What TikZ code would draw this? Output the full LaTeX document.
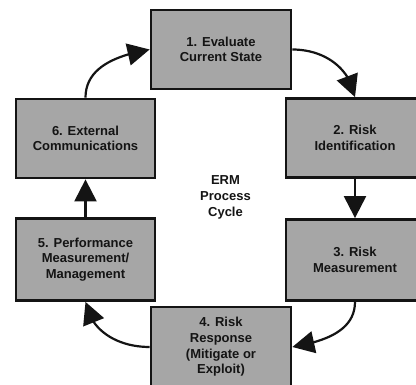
\documentclass[tikz,border=0pt]{standalone}
\usepackage{fontspec}
\setmainfont{Liberation Sans}
\usetikzlibrary{arrows.meta,bending}
\definecolor{boxfill}{HTML}{A6A6A6}
\definecolor{ink}{HTML}{141414}
\tikzset{
  stepbox/.style={draw=ink, fill=boxfill, line width=2.8pt, inner sep=0pt,
    align=center, text=ink,
    font=\bfseries\fontsize{13}{15.7}\selectfont},
  label text/.style={inner sep=0pt, align=center, text=ink,
    font=\bfseries\fontsize{13}{15.7}\selectfont},
  flow/.style={draw=ink, line width=2.2pt,
    -{Triangle[length=22pt,width=22pt]}}
}
\begin{document}
\begin{tikzpicture}[x=1pt,y=1pt]
\useasboundingbox (0,0) rectangle (416,385);
\clip (0,0) rectangle (416,385);
\fill[white] (0,0) rectangle (416,385);

% the six stages of the cycle
\node[stepbox, minimum width=140pt, minimum height=79pt] (s1) at (221,335.5) {1. Evaluate\\Current State};
\node[stepbox, minimum width=138pt, minimum height=79pt] (s2) at (355,247) {2. Risk\\Identification};
\node[stepbox, minimum width=138pt, minimum height=81pt] (s3) at (355,125) {3. Risk\\Measurement};
\node[stepbox, minimum width=140pt, minimum height=80pt] (s4) at (221,38) {4. Risk\\Response\\(Mitigate or\\Exploit)};
\node[stepbox, minimum width=139pt, minimum height=82pt] (s5) at (85.5,125.5) {5. Performance\\Measurement/\\Management};
\node[stepbox, minimum width=139pt, minimum height=79pt] (s6) at (85.5,246.5) {6. External\\Communications};

% title in the middle
\node[label text] (title) at (225.5,187.5) {ERM\\Process\\Cycle};

% connectors
\draw[flow] (s1.east) to[out=0,in=100] (s2.north);
\draw[flow] (s2.south) -- (s3.north);
\draw[flow] (s3.south) to[out=-90,in=10] (s4.east);
\draw[flow] (s4.west) to[out=180,in=-80] (s5.south);
\draw[flow] (s5.north) -- (s6.south);
\draw[flow] (s6.north) to[out=90,in=190] (s1.west);
\end{tikzpicture}
\end{document}
